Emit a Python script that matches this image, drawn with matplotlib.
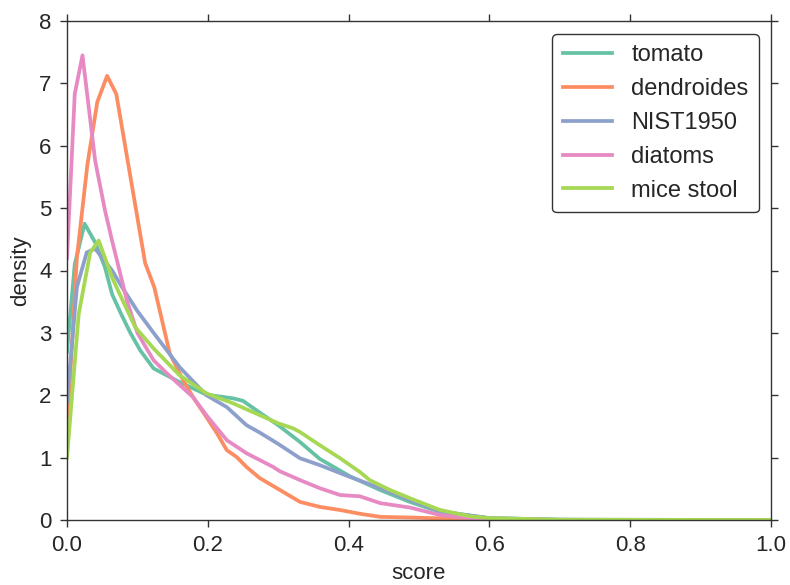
import matplotlib
matplotlib.use("Agg")
import matplotlib.pyplot as plt

plt.rcParams['font.family'] = ['Liberation Sans', 'DejaVu Sans']

labels = ["tomato", "dendroides", "NIST1950", "diatoms", "mice stool"]
colors = ["#66c2a5", "#fc8d62", "#8da0cb", "#e78ac3", "#a6d854"]

tomato_x = [0.0, 0.011, 0.025, 0.040, 0.054, 0.064, 0.077, 0.09, 0.104, 0.123, 0.16, 0.198,
            0.236, 0.25, 0.274, 0.3, 0.331, 0.359, 0.402, 0.445, 0.487, 0.53, 0.6, 0.7, 0.8, 1.0]
tomato_y = [2.7, 4.1, 4.75, 4.45, 4.05, 3.62, 3.3, 3.0, 2.72, 2.43, 2.21, 2.01,
            1.95, 1.91, 1.72, 1.52, 1.25, 0.98, 0.70, 0.48, 0.29, 0.13, 0.03, 0.005, 0.0, 0.0]

dendro_x = [0.0, 0.014, 0.029, 0.043, 0.057, 0.070, 0.111, 0.124, 0.146, 0.165, 0.179, 0.198,
            0.213, 0.227, 0.241, 0.255, 0.274, 0.3026, 0.331, 0.359, 0.388, 0.416, 0.445,
            0.487, 0.55, 0.6, 0.7, 1.0]
dendro_y = [1.4, 4.2, 5.7, 6.7, 7.12, 6.83, 4.12, 3.73, 2.67, 2.24, 1.97, 1.65,
            1.39, 1.12, 1.01, 0.85, 0.67, 0.48, 0.29, 0.21, 0.16, 0.10, 0.05,
            0.04, 0.02, 0.01, 0.0, 0.0]

nist_x = [0.0, 0.014, 0.028, 0.040, 0.064, 0.080, 0.100, 0.123, 0.16, 0.198, 0.227, 0.255,
          0.274, 0.3, 0.331, 0.359, 0.402, 0.445, 0.487, 0.53, 0.6, 0.7, 1.0]
nist_y = [1.9, 3.73, 4.29, 4.35, 4.0, 3.7, 3.35, 3.0, 2.45, 2.0, 1.81, 1.52,
          1.4, 1.22, 0.99, 0.88, 0.69, 0.51, 0.32, 0.14, 0.03, 0.005, 0.0]

diat_x = [0.0, 0.011, 0.022, 0.040, 0.054, 0.064, 0.078, 0.085, 0.100, 0.123, 0.142, 0.179,
          0.198, 0.227, 0.255, 0.274, 0.293, 0.3026, 0.331, 0.359, 0.388, 0.416, 0.445,
          0.487, 0.53, 0.572, 0.7, 1.0]
diat_y = [4.2, 6.83, 7.45, 5.76, 4.96, 4.48, 3.84, 3.52, 3.0, 2.56, 2.35, 1.97,
          1.68, 1.28, 1.07, 0.96, 0.85, 0.78, 0.64, 0.51, 0.40, 0.38, 0.27,
          0.2, 0.08, 0.03, 0.0, 0.0]

mice_x = [0.0, 0.0166, 0.033, 0.045, 0.064, 0.077, 0.097, 0.123, 0.16, 0.198, 0.236, 0.274,
          0.3, 0.321, 0.331, 0.359, 0.388, 0.416, 0.43, 0.459, 0.487, 0.53, 0.572, 0.6, 0.7, 1.0]
mice_y = [1.0, 3.3, 4.29, 4.48, 3.89, 3.57, 3.09, 2.75, 2.32, 2.03, 1.87, 1.68,
          1.55, 1.47, 1.41, 1.2, 0.99, 0.77, 0.64, 0.48, 0.35, 0.16, 0.06, 0.03, 0.005, 0.0]

series = [(tomato_x, tomato_y), (dendro_x, dendro_y), (nist_x, nist_y),
          (diat_x, diat_y), (mice_x, mice_y)]

xticks = [0.0, 0.2, 0.4, 0.6, 0.8, 1.0]
yticks = [0, 1, 2, 3, 4, 5, 6, 7, 8]

fig = plt.figure(figsize=(7.9, 5.85), dpi=100)
ax = fig.add_axes([67/790, 1-520/585, (771-67)/790, (520-21)/585])

for (xs, ys), lab, c in zip(series, labels, colors):
    ax.plot(xs, ys, color=c, lw=2.7, label=lab)

ax.set_xlim(0, 1)
ax.set_ylim(0, 8)
ax.set_xticks(xticks)
ax.set_yticks(yticks)
ax.set_xticklabels([f"{t:.1f}" for t in xticks])
ax.set_yticklabels([str(t) for t in yticks])

textc = "#262626"
for s in ax.spines.values():
    s.set_color("#333333")
    s.set_linewidth(1.0)
ax.tick_params(direction='out', length=5, width=1, color="#333333",
               labelsize=16, labelcolor=textc, top=True, right=True,
               labeltop=False, labelright=False, pad=6)
ax.set_xlabel("score", fontsize=16, color=textc, labelpad=5)
ax.set_ylabel("density", fontsize=16, color=textc, labelpad=6)

leg = ax.legend(loc='upper right', fontsize=17, frameon=True, fancybox=True,
                borderpad=0.45, labelspacing=0.5, handlelength=2.1,
                bbox_to_anchor=(1.0, 0.998))
leg.get_frame().set_edgecolor("#333333")
leg.get_frame().set_linewidth(1.0)
leg.get_frame().set_alpha(1.0)
for t in leg.get_texts():
    t.set_color(textc)

fig.savefig("out.png", dpi=100)
